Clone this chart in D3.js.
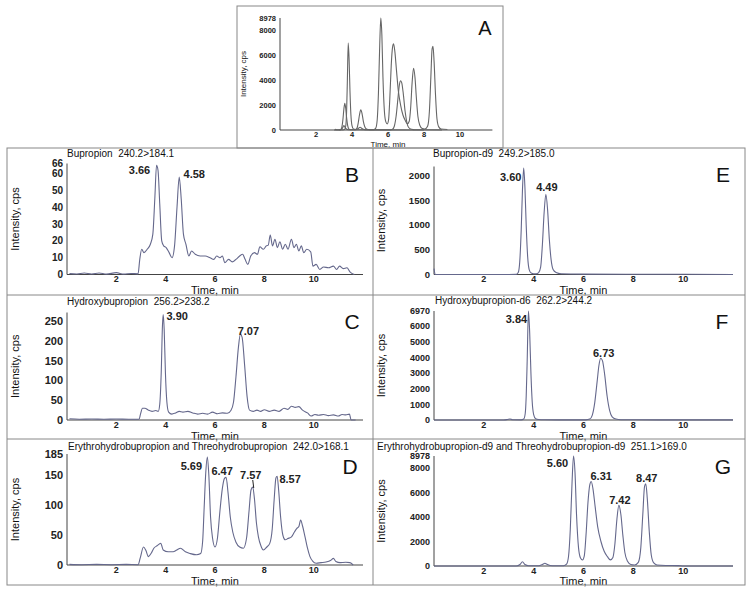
<!DOCTYPE html>
<html>
<head>
<meta charset="utf-8">
<script src="https://cdn.jsdelivr.net/npm/d3@7"></script>
<style>
  body { margin: 0; background: #fff; }
  svg { font-family: "Liberation Sans", Arial, sans-serif; }
  .ttl { white-space: pre; }
</style>
</head>
<body>
<svg width="754" height="593"></svg>
<script>
// ---------- data (time in min, intensity in cps) ----------
var bupropion = [[0.1,0.5],[0.4,0.3],[0.7,0.9],[1.0,0.3],[1.3,0.9],[1.6,0.2],[2.0,1.1],[2.3,0.2],[2.6,0.6],[2.88,0.4],
  [2.95,9],[3.03,15],[3.12,13],[3.25,15],[3.38,18],[3.48,24],[3.56,45],[3.63,65],[3.69,62],[3.76,42],[3.84,20],[3.92,17],
  [4.02,16],[4.14,13],[4.26,10],[4.36,17],[4.46,40],[4.55,58],[4.63,45],[4.72,24],[4.82,18],[4.94,11],[5.05,14],[5.2,12],
  [5.4,11],[5.6,11],[5.8,10],[5.95,9],[6.07,11],[6.2,10],[6.3,11],[6.4,7],[6.55,9],[6.7,7.5],[6.85,9],[7.0,11],[7.12,12],
  [7.22,9],[7.33,6],[7.45,11],[7.6,13],[7.72,12],[7.82,16.5],[7.96,15],[8.08,17],[8.16,17.5],[8.24,23.5],[8.33,17],
  [8.43,21],[8.53,16],[8.63,19.5],[8.74,15],[8.85,18],[8.96,15],[9.1,21],[9.2,16],[9.3,18],[9.4,14],[9.5,17],[9.6,13],
  [9.72,15],[9.88,13.5],[9.97,5],[10.1,6],[10.25,3],[10.4,4.5],[10.6,4],[10.8,5],[10.93,3],[11.05,5],[11.2,3.5],[11.35,4],
  [11.47,1.6],[11.65,0]];

var hydroxybupropion = [[0.1,3],[0.5,2],[1.0,2.5],[1.5,2],[2.0,2.5],[2.5,2],[2.92,2],[2.98,15],[3.06,30],[3.16,30],[3.3,25],
  [3.45,22],[3.6,24],[3.7,22],[3.76,40],[3.82,120],[3.87,240],[3.9,268],[3.94,230],[3.99,120],[4.05,45],[4.12,20],[4.25,15],
  [4.4,18],[4.55,22],[4.7,20],[4.9,22],[5.1,18],[5.3,15],[5.5,17],[5.7,15],[5.9,20],[6.1,16],[6.3,18],[6.5,17],[6.65,25],
  [6.75,45],[6.85,110],[6.95,185],[7.03,218],[7.1,210],[7.2,140],[7.3,60],[7.4,25],[7.55,22],[7.7,25],[7.85,22],[8.0,26],
  [8.2,22],[8.4,25],[8.6,22],[8.8,30],[8.95,27],[9.1,35],[9.25,32],[9.4,34],[9.55,25],[9.75,18],[9.9,10],[10.05,14],
  [10.2,12],[10.4,14],[10.6,11],[10.8,13],[11.0,10],[11.15,14],[11.3,13],[11.45,15],[11.52,0],[11.7,0]];

var erythroThreo = [[0.1,1],[0.6,0.5],[1.2,1],[1.8,0.5],[2.4,1],[2.88,0.5],[2.97,12],[3.1,30],[3.2,24],[3.3,14],[3.42,20],
  [3.52,28],[3.65,32],[3.8,36],[3.9,25],[4.1,22],[4.3,22],[4.45,25],[4.6,28],[4.8,22],[5.0,19],[5.25,17],[5.42,19],
  [5.5,40],[5.56,95],[5.62,150],[5.69,180],[5.75,150],[5.82,80],[5.9,45],[6.0,30],[6.1,45],[6.2,90],[6.3,128],[6.38,144],
  [6.45,146],[6.53,120],[6.62,80],[6.72,55],[6.85,38],[7.0,30],[7.15,28],[7.28,45],[7.38,90],[7.46,125],[7.53,130],
  [7.6,110],[7.68,70],[7.76,47],[7.86,32],[7.96,25],[8.1,30],[8.22,36],[8.32,60],[8.4,110],[8.47,145],[8.52,148],
  [8.58,125],[8.66,80],[8.75,50],[8.85,42],[8.95,44],[9.1,47],[9.22,55],[9.32,61],[9.4,64],[9.47,75],[9.55,65],
  [9.65,47],[9.75,28],[9.85,14],[9.95,7],[10.1,3],[10.3,4],[10.5,5],[10.7,8],[10.8,11],[10.9,6],[11.07,4],[11.3,4.5],
  [11.47,4],[11.6,0]];

var bupropionD9 = [[0,120],[0.05,0],[1,0],[2,0],[3.0,0],[3.3,2],[3.38,40],[3.44,250],[3.5,900],[3.55,1700],[3.6,2150],
  [3.65,1750],[3.7,1000],[3.76,350],[3.82,100],[3.9,30],[4.0,15],[4.1,15],[4.2,40],[4.28,150],[4.35,600],[4.42,1250],
  [4.49,1620],[4.56,1300],[4.63,700],[4.7,300],[4.78,100],[4.9,40],[5.1,15],[6,8],[8,5],[10,5],[12,0]];

var hydroxyD6 = [[0,0],[2.8,0],[2.95,30],[3.05,60],[3.15,20],[3.5,10],[3.6,60],[3.66,400],[3.7,1500],[3.74,3800],
  [3.79,6970],[3.84,5600],[3.89,3000],[3.94,1200],[4.0,350],[4.08,80],[4.2,30],[4.4,15],[5,10],[6.1,10],[6.25,60],
  [6.35,300],[6.45,1100],[6.55,2500],[6.62,3500],[6.69,3950],[6.76,3800],[6.85,2900],[6.95,1500],[7.05,600],[7.15,200],
  [7.3,60],[7.5,20],[9,10],[12,5]];

var erythroThreoD9 = [[0,0],[3.3,5],[3.45,120],[3.55,350],[3.65,120],[3.8,20],[4.2,20],[4.35,120],[4.45,220],[4.55,120],
  [4.75,20],[5.2,20],[5.32,150],[5.4,800],[5.47,3000],[5.54,6800],[5.6,8978],[5.66,7600],[5.72,4200],[5.8,1500],[5.88,650],
  [5.96,490],[6.03,800],[6.1,2500],[6.18,5200],[6.25,6600],[6.31,6900],[6.38,6300],[6.47,4800],[6.57,3200],[6.7,2000],
  [6.83,1200],[6.96,760],[7.08,500],[7.18,700],[7.26,1800],[7.34,3800],[7.42,4950],[7.5,4200],[7.58,2500],[7.66,1100],
  [7.76,400],[7.9,120],[8.05,80],[8.2,300],[8.3,1500],[8.38,4200],[8.45,6500],[8.5,6700],[8.56,5500],[8.64,2800],
  [8.72,900],[8.82,250],[8.95,80],[9.3,40],[9.8,30],[10,0],[12,0]];

// peak labels: [time of apex, intensity at apex, text]
var bPeaks = [[3.63,65,"3.66"],[4.55,58,"4.58"]];
var cPeaks = [[3.9,268,"3.90"],[7.03,218,"7.07"]];
var dPeaks = [[5.69,180,"5.69"],[6.45,146,"6.47"],[7.53,130,"7.57"],[8.52,148,"8.57"]];
var ePeaks = [[3.6,2150,"3.60"],[4.49,1620,"4.49"]];
var fPeaks = [[3.79,6970,"3.84"],[6.69,3950,"6.73"]];
var gPeaks = [[5.6,8978,"5.60"],[6.31,6900,"6.31"],[7.42,4950,"7.42"],[8.5,6700,"8.47"]];

// tick labels
var timeTicks = [2,4,6,8,10];
var bTicks = [0,10,20,30,40,50,60,66];
var cTicks = [0,50,100,150,200,250];
var dTicks = [0,50,100,150,185];
var eTicks = [0,500,1000,1500,2000];
var fTicks = [0,1000,2000,3000,4000,5000,6000,6970];
var gTicks = [0,2000,4000,6000,8000,8978];

var svg = d3.select("svg");
var traceColor = "#65688c";

//////////////////////////
// one chromatogram panel
//////////////////////////
function panel(p) {
  var x = d3.scaleLinear().domain(p.xDomain).range(p.xRange);
  var y = d3.scaleLinear().domain([0, p.yMax]).range(p.yRange);
  var g = svg.append("g");

  // axis lines
  g.append("line").attr("x1", p.xRange[0]).attr("x2", p.xRange[0])
    .attr("y1", p.yRange[0]).attr("y2", p.yRange[1]).attr("stroke", "#444");
  g.append("line").attr("x1", p.xRange[0]).attr("x2", p.xRange[1])
    .attr("y1", p.yRange[0]).attr("y2", p.yRange[0]).attr("stroke", "#444");

  // y tick labels
  g.selectAll(".yt").data(p.yTicks).enter().append("text")
    .attr("x", p.xRange[0] - 4).attr("y", function(d) { return y(d); })
    .attr("dy", "0.35em").attr("text-anchor", "end")
    .style("font-size", p.yFont + "px").style("font-weight", "bold").style("fill", "#222")
    .text(function(d) { return d; });

  // x tick labels
  g.selectAll(".xt").data(timeTicks).enter().append("text")
    .attr("x", function(d) { return x(d); }).attr("y", p.yRange[0] + 1.5)
    .attr("dy", "0.72em").attr("text-anchor", "middle")
    .style("font-size", p.xFont + "px").style("font-weight", "bold").style("fill", "#222")
    .text(function(d) { return d; });

  // traces
  var line = d3.line().x(function(d) { return x(d[0]); }).y(function(d) { return y(d[1]); })
    .curve(d3.curveMonotoneX);
  p.traces.forEach(function(tr) {
    var pts = tr.filter(function(d) { return d[0] >= p.tMin && d[0] <= p.tMax; });
    g.append("path").datum(pts).attr("d", line)
      .attr("fill", "none").attr("stroke", p.color || traceColor).attr("stroke-width", 1.1);
  });

  // peak labels
  (p.peaks || []).forEach(function(pk, i) {
    var off = p.offsets[i];
    g.append("text").attr("x", x(pk[0]) + off[0]).attr("y", y(pk[1]) + off[1])
      .attr("dy", "0.35em").attr("text-anchor", "middle")
      .style("font-size", "11px").style("font-weight", "bold").style("fill", "#222")
      .text(pk[2]);
    if (off[2]) {
      g.append("line").attr("x1", x(pk[0]) + off[0] + 2).attr("y1", y(pk[1]) + off[1] + 5)
        .attr("x2", x(pk[0]) + 1).attr("y2", y(pk[1]) + 1)
        .attr("stroke", "#222").attr("stroke-width", 1);
    }
  });

  // axis titles
  g.append("text").attr("x", x(6)).attr("y", p.timeY).attr("text-anchor", "middle")
    .style("font-size", p.titleFont + "px").style("fill", "#111").text("Time, min");
  g.append("text").attr("transform", "translate(" + p.intX + "," + ((p.yRange[0] + p.yRange[1]) / 2) + ") rotate(-90)")
    .attr("text-anchor", "middle").attr("dy", "0.35em")
    .style("font-size", p.titleFont + "px").style("fill", "#111").text("Intensity, cps");

  if (p.title) {
    g.append("text").attr("class", "ttl").attr("x", p.titleX).attr("y", p.titleY)
      .style("font-size", "10px").style("fill", "#111").text(p.title);
  }
  g.append("text").attr("x", p.letterX).attr("y", p.letterY).attr("text-anchor", "middle")
    .attr("dy", "0.35em").style("font-size", p.letterFont + "px").style("fill", "#111").text(p.letter);
}

var leftX = [67, 363], rightX = [434, 733];

panel({ xDomain: [0, 12], xRange: leftX, yMax: 66, yRange: [274.5, 163.5], yTicks: bTicks,
  traces: [bupropion], tMin: 0, tMax: 12, peaks: bPeaks, offsets: [[-17, 5], [15, -3]],
  yFont: 10, xFont: 9, titleFont: 11, timeY: 293.5, intX: 15,
  title: "Bupropion  240.2>184.1", titleX: 67, titleY: 157, letter: "B", letterX: 352, letterY: 175, letterFont: 21 });

panel({ xDomain: [0, 12], xRange: leftX, yMax: 273, yRange: [420, 312.5], yTicks: cTicks,
  traces: [hydroxybupropion], tMin: 0, tMax: 12, peaks: cPeaks, offsets: [[14, 2], [8, -3]],
  yFont: 11, xFont: 9, titleFont: 11, timeY: 439.5, intX: 15,
  title: "Hydroxybupropion  256.2>238.2", titleX: 67, titleY: 305, letter: "C", letterX: 352, letterY: 322, letterFont: 21 });

panel({ xDomain: [0, 12], xRange: leftX, yMax: 185, yRange: [565, 454], yTicks: dTicks,
  traces: [erythroThreo], tMin: 0, tMax: 12, peaks: dPeaks, offsets: [[-16, 9], [-4, -6], [-2, -12, true], [13, 3]],
  yFont: 11, xFont: 9, titleFont: 11, timeY: 584.5, intX: 15,
  title: "Erythrohydrobupropion and Threohydrobupropion  242.0>168.1", titleX: 68, titleY: 449.5,
  letter: "D", letterX: 350, letterY: 467, letterFont: 21 });

panel({ xDomain: [0, 12], xRange: rightX, yMax: 2180, yRange: [274.5, 166.5], yTicks: eTicks,
  traces: [bupropionD9], tMin: 0, tMax: 12, peaks: ePeaks, offsets: [[-13, 9], [1, -7]],
  yFont: 9.5, xFont: 9, titleFont: 11, timeY: 293.5, intX: 381,
  title: "Bupropion-d9  249.2>185.0", titleX: 433, titleY: 157, letter: "E", letterX: 723, letterY: 175, letterFont: 21 });

panel({ xDomain: [0, 12], xRange: rightX, yMax: 6970, yRange: [420, 311], yTicks: fTicks,
  traces: [hydroxyD6], tMin: 0, tMax: 12, peaks: fPeaks, offsets: [[-12, 8], [3, -5]],
  yFont: 9, xFont: 9, titleFont: 11, timeY: 439.5, intX: 381,
  title: "Hydroxybupropion-d6  262.2>244.2", titleX: 435, titleY: 303.5, letter: "F", letterX: 722, letterY: 322, letterFont: 21 });

panel({ xDomain: [0, 12], xRange: rightX, yMax: 8978, yRange: [566, 456], yTicks: gTicks,
  traces: [erythroThreoD9], tMin: 0, tMax: 12, peaks: gPeaks, offsets: [[-16, 7], [10, -5], [1, -5], [1, -6]],
  yFont: 9, xFont: 9, titleFont: 11, timeY: 584.5, intX: 381,
  title: "Erythrohydrobupropion-d9 and Threohydrobupropion-d9  251.1>169.0", titleX: 377, titleY: 449.5,
  letter: "G", letterX: 723, letterY: 467, letterFont: 21 });

// overlay of the three internal standards
panel({ xDomain: [0, 11.8], xRange: [280, 492.4], yMax: 8978, yRange: [130, 18], yTicks: gTicks,
  traces: [bupropionD9, hydroxyD6, erythroThreoD9], tMin: 3, tMax: 9.75, color: "#666",
  yFont: 7.5, xFont: 7.5, titleFont: 8, timeY: 147, intX: 243,
  letter: "A", letterX: 485, letterY: 28, letterFont: 20 });

// frames
var frame = svg.append("g").attr("fill", "none").attr("stroke", "#888").attr("stroke-width", 1);
frame.append("rect").attr("x", 237).attr("y", 6).attr("width", 266).attr("height", 142);
frame.append("rect").attr("x", 7).attr("y", 148).attr("width", 738).attr("height", 437);
frame.append("line").attr("x1", 373).attr("x2", 373).attr("y1", 148).attr("y2", 585);
[295, 439].forEach(function(yy) {
  frame.append("line").attr("x1", 7).attr("x2", 745).attr("y1", yy).attr("y2", yy);
});
</script>
</body>
</html>
